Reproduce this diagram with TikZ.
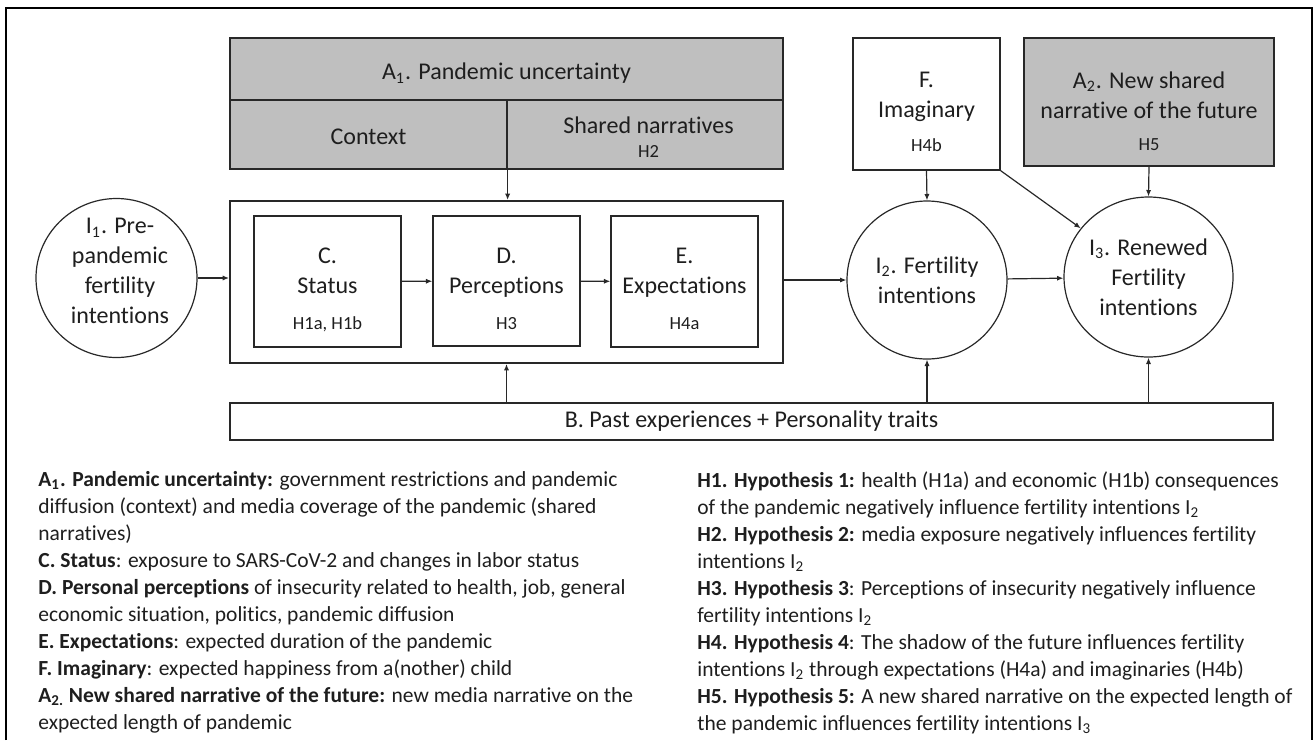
\documentclass[tikz,border=0pt]{standalone}
\usepackage{fontspec}
\setmainfont{Carlito}[Ligatures=NoCommon]
\usetikzlibrary{arrows.meta,shapes.geometric}
\definecolor{Ink}{RGB}{30,30,30}
\definecolor{Edge}{RGB}{40,40,40}
\definecolor{Shade}{RGB}{191,191,191}
\newcommand\mainsize{\fontsize{12}{15}\selectfont}
\newcommand\hypsize{\fontsize{9.25}{11}\selectfont}
\newcommand\keysize{\fontsize{10.75}{13.5}\selectfont}
\tikzset{
  >=Latex,
  outline/.style={draw=black,line width=1.3pt},
  cell/.style={draw=Edge,line width=0.6pt,fill=Shade,inner sep=0pt},
  whitebox/.style={draw=Edge,line width=0.7pt,fill=white,inner sep=0pt,text=Ink,font=\mainsize},
  corebox/.style={draw=Edge,line width=1pt,inner sep=0pt},
  intent/.style={ellipse,draw=Edge,line width=0.6pt,fill=white,align=center,text=Ink,font=\mainsize,inner sep=0pt},
  txt/.style={align=center,text=Ink,font=\mainsize,inner sep=0pt},
  legendtext/.style={align=left,text=Ink,font=\keysize,inner sep=0pt,anchor=north west},
  link/.style={-{Latex[length=3.2pt,width=2.6pt]},line width=0.6pt,draw=Edge}
}
\begin{document}
\begin{tikzpicture}[x=0.5pt,y=-0.5pt]
  \useasboundingbox (0,0) rectangle (1316,740);
  \draw[outline] (6,740) |- (1312,8) -- (1312,740);

  \node[cell,minimum width=276.5pt,minimum height=31pt] (a1) at (506.5,69) {};
  \node[cell,minimum width=138.5pt,minimum height=34.5pt] (ctx) at (368.5,134.5) {};
  \node[cell,minimum width=138pt,minimum height=34.5pt] (shared) at (645,134.5) {};
  \node[txt] (a1t) at (506.5,73) {A\textsubscript{1}. Pandemic uncertainty};
  \node[txt] (ctxt) at (368.5,136.5) {Context};
  \node[txt] (sharedt) at (648.5,137) {Shared narratives\\[-3pt]{\hypsize H2}};

  \node[corebox,minimum width=276.5pt,minimum height=81pt] (core) at (506.5,282) {};
  \node[whitebox,minimum width=73.5pt,minimum height=65.5pt] (c) at (327.5,281.5) {};
  \node[whitebox,minimum width=73.5pt,minimum height=65pt] (d) at (506.5,281) {};
  \node[whitebox,minimum width=73.5pt,minimum height=65.5pt] (e) at (684.5,281.5) {};
  \node[txt] (ct) at (327.5,289.5) {C.\\Status\\[3pt]{\hypsize H1a, H1b}};
  \node[txt] (dt) at (506.5,288.5) {D.\\Perceptions\\[3pt]{\hypsize H3}};
  \node[txt] (et) at (684.5,289) {E.\\Expectations\\[3pt]{\hypsize H4a}};

  \node[whitebox,minimum width=73.5pt,minimum height=66pt] (f) at (926.5,104) {};
  \node[txt] (ft) at (926.5,112) {F.\\Imaginary\\[2pt]{\hypsize H4b}};
  \node[cell,minimum width=125pt,minimum height=64pt] (a2) at (1149,102) {};
  \node[txt] (a2t) at (1149,111) {A\textsubscript{2}. New shared\\narrative of the future\\[1pt]{\hypsize H5}};

  \node[intent,minimum width=80.5pt,minimum height=79.5pt] (i1) at (116.5,278) {};
  \node[txt] (i1t) at (120,271) {I\textsubscript{1}. Pre-\\pandemic\\fertility\\intentions};
  \node[intent,minimum width=80pt,minimum height=79pt] (i2) at (927,280) {I\textsubscript{2}. Fertility\\intentions};
  \node[intent,minimum width=84.5pt,minimum height=80pt] (i3) at (1148.5,277) {I\textsubscript{3}. Renewed\\Fertility\\intentions};

  \node[whitebox,minimum width=521.5pt,minimum height=18.5pt] (b) at (751.5,421.5) {B. Past experiences + Personality traits};

  \draw[link] (i1.east) -- (i1.east -| core.west);
  \draw[link] (c) -- (d);
  \draw[link] (d) -- (e);
  \draw[link] (core.east |- i2) -- (i2);
  \draw[link] (i2) -- (i3);
  \draw[link] (ctx.south east) -- (ctx.south east |- core.north);
  \draw[link] (b.north -| core.south) -- (core.south);
  \draw[link] (b.north -| i2.south) -- (i2.south);
  \draw[link] (b.north -| i3.south) -- (i3.south);
  \draw[link] (f.south) -- (i2.north);
  \draw[link] (f.south east) -- (i3);
  \draw[link] (a2.south) -- (i3.north);

  \node[legendtext] (keyleft) at (38,471) {\textbf{A\textsubscript{1}. Pandemic uncertainty:} government restrictions and pandemic\\
    diffusion (context) and media coverage of the pandemic (shared\\
    narratives)\\
    \textbf{C. Status}: exposure to SARS-CoV-2 and changes in labor status\\
    \textbf{D. Personal perceptions} of insecurity related to health, job, general\\
    economic situation, politics, pandemic diffusion\\
    \textbf{E. Expectations}: expected duration of the pandemic\\
    \textbf{F. Imaginary}: expected happiness from a(nother) child\\
    \textbf{A\textsubscript{2.} New shared narrative of the future:} new media narrative on the\\
    expected length of pandemic};
  \node[legendtext] (keyright) at (697,471) {\textbf{H1. Hypothesis 1:} health (H1a) and economic (H1b) consequences\\
    of the pandemic negatively influence fertility intentions I\textsubscript{2}\\
    \textbf{H2. Hypothesis 2:} media exposure negatively influences fertility\\
    intentions I\textsubscript{2}\\
    \textbf{H3. Hypothesis 3}: Perceptions of insecurity negatively influence\\
    fertility intentions I\textsubscript{2}\\
    \textbf{H4. Hypothesis 4}: The shadow of the future influences fertility\\
    intentions I\textsubscript{2} through expectations (H4a) and imaginaries (H4b)\\
    \textbf{H5. Hypothesis 5:} A new shared narrative on the expected length of\\
    the pandemic influences fertility intentions I\textsubscript{3}};
\end{tikzpicture}
\end{document}
